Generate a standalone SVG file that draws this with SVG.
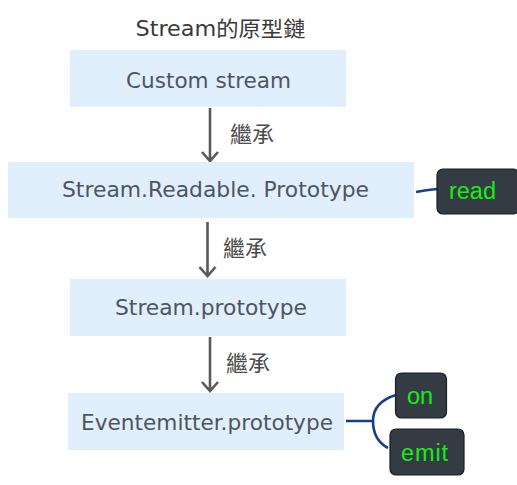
<svg xmlns="http://www.w3.org/2000/svg" width="517" height="485" viewBox="0 0 517 485">
<defs>
<style>
.box{fill:#e1effd}
.bt{font-family:"DejaVu Sans","Open Sans",sans-serif;font-size:22px;fill:#4d5561;text-anchor:middle}
.lbl{font-family:"Noto Sans CJK TC","Noto Sans CJK SC",sans-serif;font-size:22px;fill:#4a4a4a}
.arr{stroke:#5a5a5a;stroke-width:2.6;fill:none}
.tag{fill:#353b42;stroke:#1a1d21;stroke-width:1.2}
.tt{font-family:"Liberation Sans",Arial,sans-serif;font-size:23.5px;fill:#12f012;text-anchor:middle}
.con{stroke:#163e8c;stroke-width:2.6;fill:none}
</style>
</defs>
<rect width="517" height="485" fill="#ffffff"/>
<text x="220.5" y="36" font-family="'DejaVu Sans','Noto Sans CJK TC',sans-serif" font-size="21" fill="#3a3a3a" text-anchor="middle" textLength="170" lengthAdjust="spacingAndGlyphs">Stream的原型鏈</text>

<g id="connectors">
<path class="arr" d="M210 108 V161 M202 152 L210 161 L218 152"/>
<text class="lbl" x="230" y="142">繼承</text>
<path class="arr" d="M207.5 222 V276 M199.5 267 L207.5 276 L215.5 267"/>
<text class="lbl" x="223" y="256">繼承</text>
<path class="arr" d="M210 337 V391 M202 382 L210 391 L218 382"/>
<text class="lbl" x="226" y="371">繼承</text>
<path class="con" d="M416 192 Q426 190 437 189"/>
<path class="con" d="M346 421 H373 Q373 402 396 395 M373 421 Q373 440 388 448"/>
</g>

<g id="custom-stream">
<rect class="box" x="70" y="50" width="276" height="57"/>
<text class="bt" x="208.5" y="88" textLength="165" lengthAdjust="spacingAndGlyphs">Custom stream</text>
</g>
<g id="readable-prototype">
<rect class="box" x="8" y="162" width="406" height="56"/>
<text class="bt" x="215.5" y="197" textLength="307" lengthAdjust="spacingAndGlyphs">Stream.Readable. Prototype</text>
</g>
<g id="read">
<rect class="tag" x="437" y="169" width="82" height="45" rx="6"/>
<text class="tt" x="472.5" y="199" textLength="47" lengthAdjust="spacing">read</text>
</g>
<g id="stream-prototype">
<rect class="box" x="70" y="279" width="276" height="57"/>
<text class="bt" x="211" y="315" textLength="192" lengthAdjust="spacingAndGlyphs">Stream.prototype</text>
</g>
<g id="eventemitter-prototype">
<rect class="box" x="68" y="393" width="276" height="57"/>
<text class="bt" x="207" y="430" textLength="252" lengthAdjust="spacingAndGlyphs">Eventemitter.prototype</text>
</g>
<g id="on">
<rect class="tag" x="395.5" y="373" width="51" height="45" rx="6"/>
<text class="tt" x="420" y="404" textLength="26" lengthAdjust="spacing">on</text>
</g>
<g id="emit">
<rect class="tag" x="390" y="429" width="74" height="46" rx="6"/>
<text class="tt" x="424.5" y="461" textLength="47" lengthAdjust="spacing">emit</text>
</g>
</svg>
